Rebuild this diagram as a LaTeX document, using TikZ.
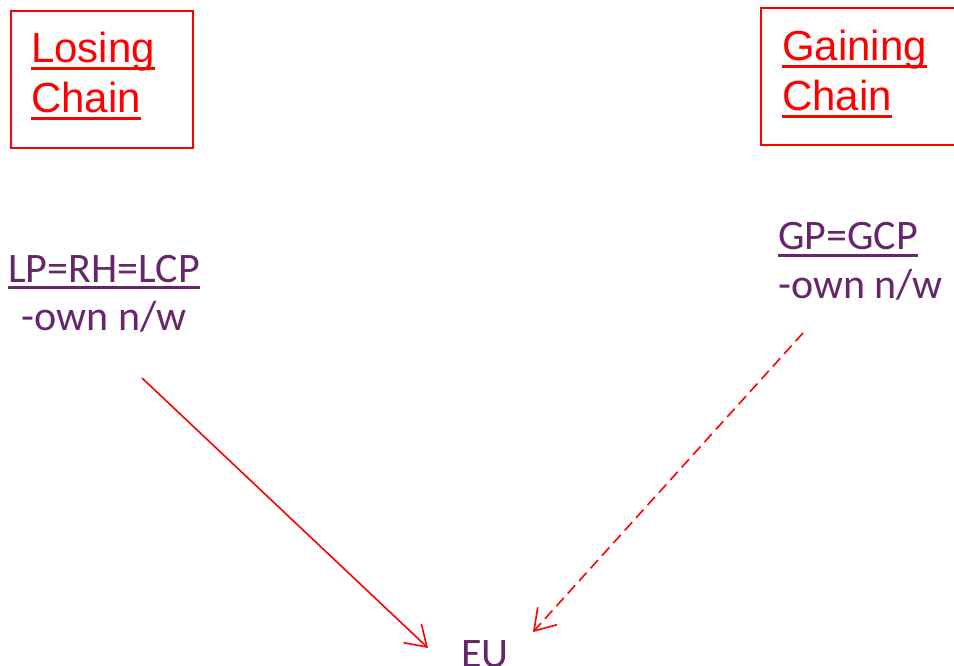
\documentclass[tikz,border=0pt]{standalone}
\usepackage{fontspec}
\setmainfont{Liberation Sans}
\newfontfamily\calibri{Carlito}
\usetikzlibrary{arrows.meta}
\definecolor{chainred}{RGB}{255,0,0}
\definecolor{plum}{RGB}{102,38,108}
\tikzset{
  chainbox/.style={draw=chainred, line width=2pt},
  redtxt/.style={anchor=base west, inner sep=0pt, text=chainred, font=\fontsize{42}{50}\selectfont},
  purptxt/.style={inner sep=0pt, text=plum, font=\calibri\fontsize{42}{50}\selectfont},
  redline/.style={chainred, line width=3pt},
  purpline/.style={plum, line width=3pt},
  link/.style={chainred, line width=1.6pt, -{Straight Barb[length=20pt,width=26pt,line width=1.6pt]}}
}
\begin{document}
\begin{tikzpicture}[x=1pt,y=-1pt]
\useasboundingbox (0,0) rectangle (954,666);
\clip (0,0) rectangle (954,666);
% Losing chain box
\draw[chainbox] (11,11) rectangle (193,148);
\node[redtxt] (lose1) at (31,63) {Losing};
\node[redtxt] (lose2) at (31,113) {Chain};
\draw[redline] ([yshift=-6pt]lose1.base west) -- ([yshift=-6pt]lose1.base east);
\draw[redline] ([yshift=-6pt]lose2.base west) -- ([yshift=-6pt]lose2.base east);
% Gaining chain box
\draw[chainbox] (761,8) rectangle (970,145);
\node[redtxt] (gain1) at (782,61) {Gaining};
\node[redtxt] (gain2) at (782,111) {Chain};
\draw[redline] ([yshift=-6pt]gain1.base west) -- ([yshift=-6pt]gain1.base east);
\draw[redline] ([yshift=-6pt]gain2.base west) -- ([yshift=-6pt]gain2.base east);
% Losing side text
\node[purptxt, anchor=base] (lp) at (104,282) {LP=RH=LCP};
\draw[purpline] ([yshift=-5pt]lp.base west) -- ([yshift=-5pt]lp.base east);
\node[purptxt, anchor=base] (lpown) at (104,330) {-own n/w};
% Gaining side text
\node[purptxt, anchor=base west] (gp) at (778,250) {GP=GCP};
\draw[purpline] ([yshift=-5pt]gp.base west) -- ([yshift=-5pt]gp.base east);
\node[purptxt, anchor=base west] (gpown) at (778,298) {-own n/w};
% EU
\node[purptxt, anchor=base] (eu) at (485,667) {EU};
% connectors
\coordinate (lstart) at (142,378);
\coordinate (lend) at (428,648);
\coordinate (gstart) at (803,333);
\coordinate (gend) at (533,632);
\draw[link] (lstart) -- (lend);
\draw[link, dash pattern=on 11pt off 6pt] (gstart) -- (gend);
\end{tikzpicture}
\end{document}
